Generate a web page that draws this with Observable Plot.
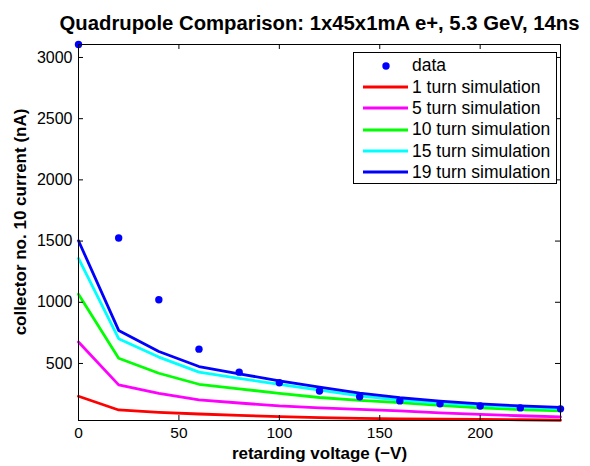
<!DOCTYPE html>
<html>
<head>
<meta charset="utf-8">
<script src="https://cdn.jsdelivr.net/npm/d3@7"></script>
<script src="https://cdn.jsdelivr.net/npm/@observablehq/plot@0.6"></script>
<style>
  html, body { margin: 0; padding: 0; background: #fff; }
  #wrap { position: relative; width: 590px; height: 466px; font-family: "Liberation Sans", Arial, Helvetica, sans-serif; }
  #legend { position: absolute; left: 353px; top: 52px; width: 204px; height: 132px; border: 1px solid #000; background: #fff; box-sizing: border-box; padding-top: 2px; }
  .row { height: 21.35px; display: flex; align-items: center; font-size: 17.5px; color: #000; white-space: nowrap; }
  .row svg { width: 58px; height: 14px; flex: none; }
</style>
</head>
<body>
<div id="wrap"></div>
<script>
const voltage = [0, 20, 40, 60, 80, 100, 120, 140, 160, 180, 200, 220, 240];
const measured = [3106, 1525, 1020, 617, 429, 342, 275, 228, 194, 170, 153, 137, 129];
const turn1  = [232, 120, 101, 87, 76, 65, 57, 52, 48, 45, 42, 40, 36];
const turn5  = [675, 325, 256, 202, 177, 153, 137, 125, 112, 97, 84, 73, 63];
const turn10 = [1066, 543, 420, 330, 293, 255, 222, 198, 180, 157, 137, 123, 112];
const turn15 = [1358, 702, 552, 429, 378, 330, 283, 236, 201, 177, 157, 143, 131];
const turn19 = [1503, 770, 598, 475, 415, 358, 306, 258, 220, 193, 170, 153, 142];

const seriesNames = ["1 turn simulation", "5 turn simulation", "10 turn simulation", "15 turn simulation", "19 turn simulation"];
const seriesValues = [turn1, turn5, turn10, turn15, turn19];
const seriesColors = ["#ff0000", "#ff00ff", "#00ff00", "#00ffff", "#0000ff"];

const xTicks = [0, 50, 100, 150, 200];
const yTicks = [500, 1000, 1500, 2000, 2500, 3000];

const titleText = "Quadrupole Comparison: 1x45x1mA e+, 5.3 GeV, 14ns";
const xLabel = "retarding voltage (\u2212V)";
const yLabel = "collector no. 10 current (nA)";

const lineRows = seriesNames.flatMap((name, s) =>
  voltage.map((v, i) => ({ series: name, x: v, y: seriesValues[s][i] })));
const dataRows = voltage.map((v, i) => ({ x: v, y: measured[i] }));

const font = "Liberation Sans, Arial, Helvetica, sans-serif";
const W = 590, H = 466, mL = 78, mR = 30, mT = 44, mB = 46;
const frameW = W - mL - mR, frameH = H - mT - mB;
const tick = 5;

const chart = Plot.plot({
  width: W, height: H,
  marginLeft: mL, marginRight: mR, marginTop: mT, marginBottom: mB,
  style: { fontFamily: font, fontSize: "16px", background: "#fff", color: "#000" },
  x: { domain: [0, 240], ticks: xTicks },
  y: { domain: [34, 3106], ticks: yTicks },
  color: { domain: seriesNames, range: seriesColors },
  marks: [
    Plot.line(lineRows, { x: "x", y: "y", z: "series", stroke: "series", strokeWidth: 2.8 }),
    Plot.dot(dataRows, { x: "x", y: "y", r: 3.7, fill: "#0000ff", stroke: null }),
    Plot.frame({ stroke: "#000", strokeWidth: 1 }),
    Plot.tickX(xTicks, { x: d => d, insetTop: frameH - tick, stroke: "#000" }),
    Plot.tickX(xTicks, { x: d => d, insetBottom: frameH - tick, stroke: "#000" }),
    Plot.tickY(yTicks, { y: d => d, insetRight: frameW - tick, stroke: "#000" }),
    Plot.tickY(yTicks, { y: d => d, insetLeft: frameW - tick, stroke: "#000" }),
    Plot.axisX(xTicks, { tickSize: 0, tickPadding: 6, label: null, fontSize: 15.5, tickFormat: d3.format("d") }),
    Plot.axisY(yTicks, { tickSize: 0, tickPadding: 6, label: null, fontSize: 16, tickFormat: d3.format("d") }),
    Plot.text([xLabel], { frameAnchor: "bottom", textAnchor: "middle", lineAnchor: "middle", dy: 33, fontWeight: "bold", fontSize: 17 }),
    Plot.text([yLabel], { frameAnchor: "left", textAnchor: "middle", lineAnchor: "middle", rotate: -90, dx: -57.5, dy: -10.5, fontWeight: "bold", fontSize: 17 }),
    Plot.text([titleText], { frameAnchor: "top", textAnchor: "middle", lineAnchor: "middle", dy: -21.5, fontWeight: "bold", fontSize: 20.3 })
  ]
});

const wrap = document.getElementById("wrap");
wrap.appendChild(chart);

const legend = document.createElement("div");
legend.id = "legend";
const rows = [{ name: "data", dot: true, color: "#0000ff" }].concat(
  seriesNames.map((n, i) => ({ name: n, dot: false, color: seriesColors[i] })));
rows.forEach(r => {
  const row = document.createElement("div");
  row.className = "row";
  const sym = r.dot
    ? `<svg viewBox="0 0 58 14"><circle cx="32" cy="7" r="3.7" fill="${r.color}"/></svg>`
    : `<svg viewBox="0 0 58 14"><line x1="9" x2="54" y1="7" y2="7" stroke="${r.color}" stroke-width="2.8"/></svg>`;
  row.innerHTML = sym + `<span>${r.name}</span>`;
  legend.appendChild(row);
});
wrap.appendChild(legend);
</script>
</body>
</html>
